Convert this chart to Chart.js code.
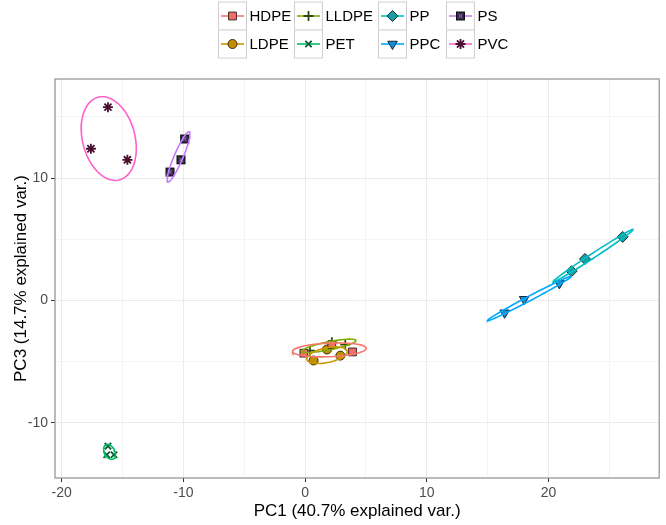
<!DOCTYPE html>
<html>
<head>
<meta charset="utf-8">
<script src="https://cdn.jsdelivr.net/npm/chart.js"></script>
<style>
  body { margin: 0; background: #fff; }
  #wrap { width: 666px; height: 525px; }
</style>
</head>
<body>
<div id="wrap"><canvas id="pca" width="666" height="525"></canvas></div>
<script>
// groups and their PCA scores (3 samples per group)
const groups = ['HDPE', 'LDPE', 'LLDPE', 'PET', 'PP', 'PPC', 'PS', 'PVC'];
const pc1Scores = [
  [-0.1, 2.2, 3.9],      // HDPE
  [0.7, 1.8, 2.9],       // LDPE
  [0.4, 2.2, 3.3],       // LLDPE
  [-16.2, -16.3, -15.7], // PET
  [21.9, 23.0, 26.1],    // PP
  [16.4, 18.0, 20.9],    // PPC
  [-11.1, -10.2, -9.9],  // PS
  [-17.6, -16.2, -14.6]  // PVC
];
const pc3Scores = [
  [-4.3, -3.6, -4.2],
  [-4.9, -4.0, -4.5],
  [-4.1, -3.4, -3.6],
  [-11.9, -12.6, -12.6],
  [2.4, 3.4, 5.2],
  [-1.0, 0.1, 1.4],
  [10.5, 11.5, 13.2],
  [12.4, 15.8, 11.5]
];
const xTicks = [-20, -10, 0, 10, 20];
const yTicks = [-10, 0, 10];
const xTitle = 'PC1 (40.7% explained var.)';
const yTitle = 'PC3 (14.7% explained var.)';

// styles
const lineColors = ['#F8766D', '#CD9600', '#7CAE00', '#00BE67', '#00BFC4', '#00A9FF', '#C77CFF', '#FF61CC'];
const pointFills = ['#F07068', '#C28E00', '#33450a', '#0d5a34', '#169fa3', '#138fd4', '#2e2340', '#4a0e30'];
const pointBorders = ['#3a2a28', '#3a2e10', '#33450a', '#0d5a34', '#1c2b2b', '#15253a', '#111111', '#4a0e30'];
const FONT = '"Liberation Sans", Arial, Helvetica, sans-serif';

// square with a cross inside (PS)
const psMark = document.createElement('canvas');
psMark.width = 11; psMark.height = 11;
(function () {
  const c = psMark.getContext('2d');
  c.fillStyle = '#2e2340';
  c.fillRect(1, 1, 9, 9);
  c.strokeStyle = '#111';
  c.lineWidth = 1;
  c.strokeRect(1.5, 1.5, 8, 8);
  c.strokeStyle = '#b98fe6';
  c.beginPath();
  c.moveTo(3.5, 3.5); c.lineTo(7.5, 7.5);
  c.moveTo(7.5, 3.5); c.lineTo(3.5, 7.5);
  c.stroke();
})();

const pointStyles = ['rect', 'circle', 'cross', 'crossRot', 'rectRot', 'triangle', psMark, 'star'];
const pointRotations = [0, 0, 0, 0, 0, 180, 0, 0];
const pointRadii = [5.5, 4.5, 5, 4.5, 5.5, 5.5, 5, 5];

// 68% normal ellipse like ggbiplot
function ellipse(xs, ys) {
  const n = xs.length;
  const mx = xs.reduce((a, b) => a + b, 0) / n;
  const my = ys.reduce((a, b) => a + b, 0) / n;
  let sxx = 0, syy = 0, sxy = 0;
  for (let i = 0; i < n; i++) {
    sxx += (xs[i] - mx) ** 2;
    syy += (ys[i] - my) ** 2;
    sxy += (xs[i] - mx) * (ys[i] - my);
  }
  sxx /= n - 1; syy /= n - 1; sxy /= n - 1;
  const a = Math.sqrt(sxx), b = sxy / a, c = Math.sqrt(Math.max(syy - b * b, 0));
  const ed = Math.sqrt(-2 * Math.log(1 - 0.68));
  const pts = [];
  for (let i = 0; i < 50; i++) {
    const t = -Math.PI + 2 * Math.PI * i / 49;
    const ct = Math.cos(t), st = Math.sin(t);
    pts.push({ x: mx + ed * a * ct, y: my + ed * (b * ct + c * st) });
  }
  return pts;
}

const ellipseSets = groups.map((g, i) => ({
  type: 'line',
  label: g + ' ellipse',
  data: ellipse(pc1Scores[i], pc3Scores[i]),
  borderColor: lineColors[i],
  borderWidth: 1.6,
  pointRadius: 0,
  fill: false,
  tension: 0
}));

const pointSets = groups.map((g, i) => ({
  type: 'scatter',
  label: g,
  data: pc1Scores[i].map((x, k) => ({ x: x, y: pc3Scores[i][k] })),
  pointStyle: pointStyles[i],
  rotation: pointRotations[i],
  radius: pointRadii[i],
  backgroundColor: pointFills[i],
  borderColor: pointBorders[i],
  borderWidth: (i === 2 || i === 3 || i === 7) ? 1.8 : 1
}));

const isMajor = (v, list) => list.includes(v);

const frame = {
  id: 'frame',
  afterDraw(chart) {
    const { ctx, chartArea: a } = chart;
    ctx.save();
    ctx.strokeStyle = '#8f8f8f';
    ctx.lineWidth = 1.2;
    ctx.strokeRect(a.left, a.top, a.right - a.left, a.bottom - a.top);

    // legend: 2 rows x 4 columns
    const colX = [218, 294, 378, 446];
    const rowY = [1.5, 29.5];
    const box = 28;
    groups.forEach((g, i) => {
      const bx = colX[Math.floor(i / 2)];
      const by = rowY[i % 2];
      ctx.fillStyle = '#fff';
      ctx.fillRect(bx, by, box, box);
      ctx.strokeStyle = '#cfcfcf';
      ctx.lineWidth = 1;
      ctx.strokeRect(bx + 0.5, by + 0.5, box, box);
      const cy = by + box / 2 + 0.5;
      ctx.strokeStyle = lineColors[i];
      ctx.lineWidth = 1.6;
      ctx.beginPath();
      ctx.moveTo(bx + 3, cy);
      ctx.lineTo(bx + box - 2, cy);
      ctx.stroke();
      ctx.fillStyle = pointFills[i];
      ctx.strokeStyle = pointBorders[i];
      ctx.lineWidth = (i === 2 || i === 3 || i === 7) ? 1.8 : 1;
      if (Chart.helpers && Chart.helpers.drawPoint) {
        Chart.helpers.drawPoint(ctx, {
          pointStyle: pointStyles[i],
          rotation: pointRotations[i],
          radius: pointRadii[i],
          borderWidth: ctx.lineWidth
        }, bx + box / 2 + 0.5, cy);
      }
      ctx.fillStyle = '#000';
      ctx.font = '15px ' + FONT;
      ctx.textBaseline = 'middle';
      ctx.textAlign = 'left';
      ctx.fillText(g, bx + box + 3.5, cy + 1);
    });
    ctx.restore();
  }
};

new Chart(document.getElementById('pca'), {
  data: { datasets: ellipseSets.concat(pointSets) },
  options: {
    responsive: false,
    devicePixelRatio: 1,
    animation: false,
    layout: { padding: { top: 79, right: 2, left: 0, bottom: 0 } },
    plugins: { legend: { display: false }, tooltip: { enabled: false } },
    scales: {
      x: {
        type: 'linear',
        min: -20.55,
        max: 29.1,
        afterFit: s => { s.height = 47; },
        border: { display: false },
        grid: {
          color: c => (c.tick && isMajor(c.tick.value, xTicks)) ? '#ebebeb' : '#f4f4f4',
          lineWidth: 1,
          tickLength: 4,
          tickColor: c => (c.tick && isMajor(c.tick.value, xTicks)) ? '#333' : 'rgba(0,0,0,0)',
          tickWidth: 1
        },
        ticks: {
          stepSize: 5,
          includeBounds: false,
          autoSkip: false,
          maxRotation: 0,
          padding: 3,
          color: '#4d4d4d',
          font: { size: 14, family: FONT },
          callback: v => isMajor(v, xTicks) ? String(v) : ''
        },
        title: {
          display: true,
          text: xTitle,
          color: '#000',
          font: { size: 17, family: FONT },
          padding: { top: 0, bottom: 3 }
        }
      },
      y: {
        type: 'linear',
        min: -14.5,
        max: 18.1,
        afterFit: s => { s.width = 55; },
        border: { display: false },
        grid: {
          color: c => (c.tick && isMajor(c.tick.value, yTicks)) ? '#ebebeb' : '#f4f4f4',
          lineWidth: 1,
          tickLength: 4,
          tickColor: c => (c.tick && isMajor(c.tick.value, yTicks)) ? '#333' : 'rgba(0,0,0,0)',
          tickWidth: 1
        },
        ticks: {
          stepSize: 5,
          includeBounds: false,
          autoSkip: false,
          padding: 3,
          color: '#4d4d4d',
          font: { size: 14, family: FONT },
          callback: v => isMajor(v, yTicks) ? String(v) : ''
        },
        title: {
          display: true,
          text: yTitle,
          color: '#000',
          font: { size: 17, family: FONT },
          padding: { top: 11, bottom: 0 }
        }
      }
    }
  },
  plugins: [frame]
});
</script>
</body>
</html>
